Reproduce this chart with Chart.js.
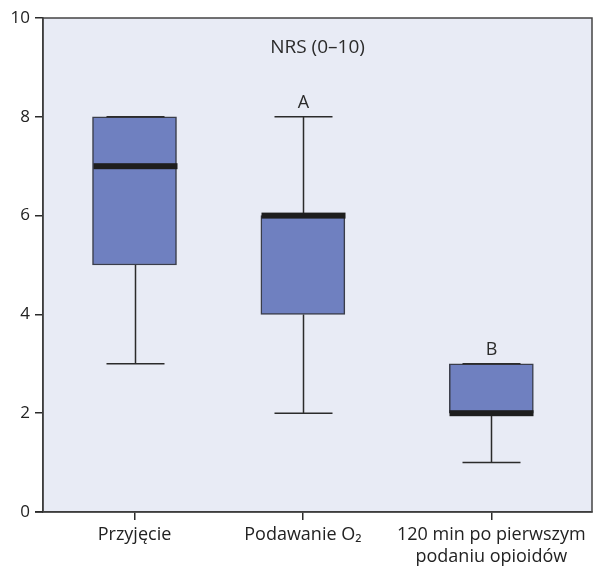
<!DOCTYPE html>
<html lang="pl">
  <head>
    <meta charset="UTF-8" />
    <title>NRS (0–10)</title>
    <script src="https://cdn.jsdelivr.net/npm/chart.js"></script>
    <style>
      html, body { margin: 0; padding: 0; background: #ffffff; }
      #wrap { width: 595px; height: 566px; }
    </style>
  </head>
  <body>
    <div id="wrap"><canvas id="nrsChart" width="595" height="566"></canvas></div>

    <script>
      // dane wykresu
      const categories = ["Przyjęcie", "Podawanie O₂", ["120 min po pierwszym", "podaniu opioidów"]];
      const xPositions = [0.5, 1.42, 2.45];
      const whiskerMin = [3, 2, 1];
      const q1 = [5, 4, 2];
      const median = [7, 6, 2];
      const q3 = [8, 6, 3];
      const whiskerMax = [8, 8, 3];
      const groupLetters = ["", "A", "B"];
      const yTicks = [0, 2, 4, 6, 8, 10];
      const chartTitle = "NRS (0–10)";

      const FONT = "'Open Sans', 'Noto Sans', sans-serif";
      const INK = "#2b2b2b";

      // tło i ramka obszaru wykresu, wąsy, mediany, litery
      const boxPlotExtras = {
        id: "boxPlotExtras",
        beforeDraw(chart) {
          const { ctx, chartArea: a } = chart;
          ctx.save();
          ctx.fillStyle = "#e8ebf5";
          ctx.fillRect(a.left, a.top, a.right - a.left, a.bottom - a.top);
          ctx.restore();
        },
        afterDatasetsDraw(chart) {
          const { ctx, chartArea: a } = chart;
          const xs = chart.scales.x;
          const ys = chart.scales.y;
          ctx.save();
          ctx.strokeStyle = INK;
          ctx.lineWidth = 1.5;
          xPositions.forEach((pos, i) => {
            const cx = Math.round(xs.getPixelForValue(pos)) + 0.5;
            const capHalf = 29;
            const boxHalf = 42;
            const yMin = ys.getPixelForValue(whiskerMin[i]);
            const yQ1 = ys.getPixelForValue(q1[i]);
            const yQ3 = ys.getPixelForValue(q3[i]);
            const yMax = ys.getPixelForValue(whiskerMax[i]);
            ctx.beginPath();
            if (whiskerMin[i] < q1[i]) {
              ctx.moveTo(cx, yQ1);
              ctx.lineTo(cx, yMin);
            }
            ctx.moveTo(cx - capHalf, yMin);
            ctx.lineTo(cx + capHalf, yMin);
            if (whiskerMax[i] > q3[i]) {
              ctx.moveTo(cx, yQ3);
              ctx.lineTo(cx, yMax);
            }
            ctx.moveTo(cx - capHalf, yMax);
            ctx.lineTo(cx + capHalf, yMax);
            ctx.stroke();

            // mediana
            const yMed = ys.getPixelForValue(median[i]);
            ctx.fillStyle = "#1e1e1e";
            ctx.fillRect(cx - boxHalf, yMed - 3, boxHalf * 2, 6);

            // litera grupy
            if (groupLetters[i]) {
              ctx.fillStyle = INK;
              ctx.font = "18px " + FONT;
              ctx.textAlign = "center";
              ctx.textBaseline = "alphabetic";
              ctx.fillText(groupLetters[i], cx, yMax - 9);
            }
          });

          // tytuł w obszarze wykresu
          ctx.fillStyle = INK;
          ctx.font = "19px " + FONT;
          ctx.textAlign = "center";
          ctx.textBaseline = "middle";
          ctx.fillText(chartTitle, (a.left + a.right) / 2, a.top + 30);

          // ramka
          ctx.strokeStyle = "#444";
          ctx.lineWidth = 1.5;
          ctx.strokeRect(a.left, a.top, a.right - a.left, a.bottom - a.top);

          // oś X wysunięta w lewo
          ctx.strokeStyle = INK;
          ctx.beginPath();
          ctx.moveTo(a.left - 8, a.bottom);
          ctx.lineTo(a.left, a.bottom);
          ctx.stroke();
          ctx.restore();
        },
      };

      const ctx = document.getElementById("nrsChart").getContext("2d");
      new Chart(ctx, {
        type: "bar",
        data: {
          datasets: [
            {
              label: "NRS",
              data: xPositions.map((pos, i) => ({ x: pos, y: [q1[i], q3[i]] })),
              backgroundColor: "#6f80c0",
              borderColor: "#3a3d4a",
              borderWidth: 1.5,
              borderSkipped: false,
              barThickness: 84,
            },
          ],
        },
        options: {
          responsive: false,
          animation: false,
          layout: { padding: { top: 18, right: 3, left: 0, bottom: 0 } },
          plugins: {
            legend: { display: false },
            tooltip: { enabled: false },
          },
          scales: {
            x: {
              type: "linear",
              offset: false,
              min: 0,
              max: 3,
              afterBuildTicks(scale) {
                scale.ticks = xPositions.map((v) => ({ value: v }));
              },
              afterFit(scale) {
                scale.height = 54;
              },
              ticks: {
                autoSkip: false,
                maxRotation: 0,
                padding: 4,
                color: "#222",
                font: { family: FONT, size: 18, lineHeight: 1.2 },
                callback: (value, index) => categories[index],
              },
              grid: {
                offset: false,
                drawOnChartArea: false,
                tickLength: 8,
                color: INK,
                lineWidth: 1.5,
              },
              border: { color: INK, width: 1.5 },
            },
            y: {
              min: 0,
              max: 10,
              afterBuildTicks(scale) {
                scale.ticks = yTicks.map((v) => ({ value: v }));
              },
              afterFit(scale) {
                scale.width = 43;
              },
              ticks: {
                padding: 5,
                color: "#222",
                font: { family: FONT, size: 17 },
              },
              grid: {
                drawOnChartArea: false,
                tickLength: 8,
                color: INK,
                lineWidth: 1.5,
              },
              border: { color: INK, width: 1.5 },
            },
          },
        },
        plugins: [boxPlotExtras],
      });
    </script>
  </body>
</html>
